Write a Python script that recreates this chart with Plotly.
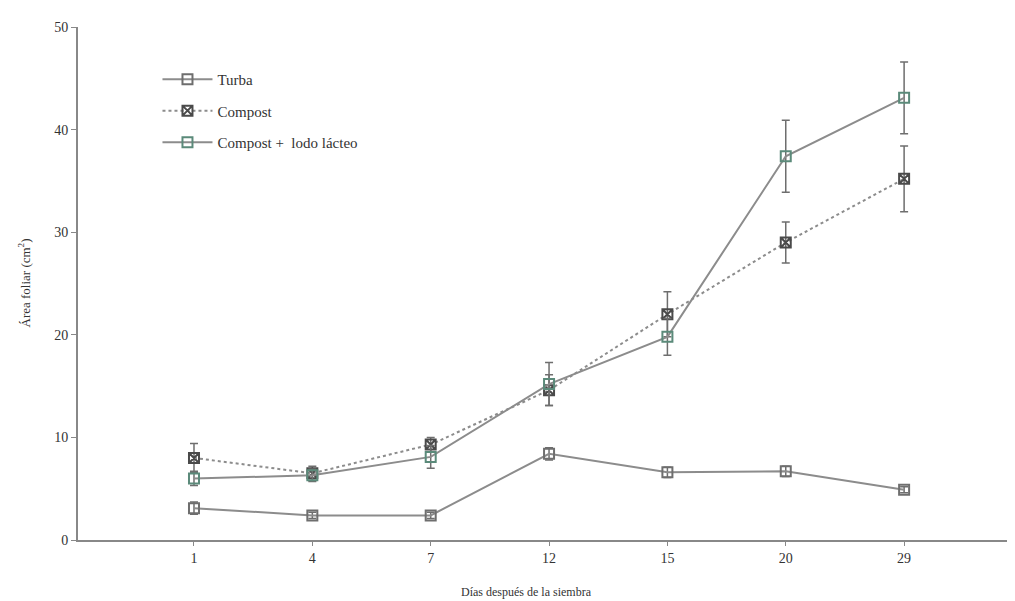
import plotly.graph_objects as go

dias = ["1", "4", "7", "12", "15", "20", "29"]

turba = [3.1, 2.4, 2.4, 8.4, 6.6, 6.7, 4.9]
turba_err = [0.6, 0.3, 0.3, 0.6, 0.5, 0.5, 0.3]

compost = [8.0, 6.5, 9.3, 14.6, 22.0, 29.0, 35.2]
compost_err = [1.4, 0.7, 0.7, 1.5, 2.2, 2.0, 3.2]

lodo = [6.0, 6.3, 8.1, 15.2, 19.8, 37.4, 43.1]
lodo_err = [0.7, 0.6, 1.1, 2.1, 1.8, 3.5, 3.5]

line_col = "#8c8c8c"
font_fam = "Liberation Serif, DejaVu Serif, serif"

fig = go.Figure()

fig.add_trace(go.Scatter(
    x=dias, y=turba, name="Turba", mode="lines+markers", legendgroup="a",
    line=dict(color=line_col, width=2),
    marker=dict(symbol="square-open", size=10, color="#6e6e6e", line=dict(width=2)),
    error_y=dict(type="data", array=turba_err, color="#6e6e6e", thickness=1.5, width=4),
))
fig.add_trace(go.Scatter(
    x=dias, y=compost, name="Compost", mode="lines+markers", legendgroup="b",
    line=dict(color=line_col, width=2, dash="dot"),
    marker=dict(symbol="square-x-open", size=10, color="#4a4a4a", line=dict(width=2)),
    error_y=dict(type="data", array=compost_err, color="#6e6e6e", thickness=1.5, width=4),
))
fig.add_trace(go.Scatter(
    x=dias, y=lodo, name="Compost +  lodo lácteo", mode="lines+markers", legendgroup="c",
    line=dict(color=line_col, width=2),
    marker=dict(symbol="square-open", size=10, color="#5b8a7a", line=dict(width=2)),
    error_y=dict(type="data", array=lodo_err, color="#6e6e6e", thickness=1.5, width=4),
))

fig.update_layout(
    width=1007, height=593,
    margin=dict(l=70, r=2, t=19, b=61, autoexpand=False),
    paper_bgcolor="white", plot_bgcolor="white",
    font=dict(family=font_fam, size=13, color="#333"),
    showlegend=True,
    legend=dict(x=0.085, y=0.93, xanchor="left", yanchor="top",
                bgcolor="rgba(0,0,0,0)", font=dict(size=15, color="#333"),
                itemwidth=50, tracegroupgap=9),
    xaxis=dict(
        type="category", range=[-0.98, 6.92], automargin=False,
        showline=True, linecolor="#888", linewidth=2,
        ticks="outside", ticklen=4, tickcolor="#888",
        showgrid=False, zeroline=False,
        tickfont=dict(size=14),
    ),
    yaxis=dict(
        range=[0, 50], dtick=10, automargin=False,
        showline=True, linecolor="#888", linewidth=2,
        ticks="outside", ticklen=5, tickcolor="#888",
        showgrid=False, zeroline=False,
        tickfont=dict(size=14),
    ),
    annotations=[
        dict(text="Días después de la siembra", xref="paper", yref="paper",
             x=0.48, y=0, yshift=-52, showarrow=False, yanchor="middle",
             font=dict(size=12, color="#333")),
        dict(text="Área foliar (cm<sup>2</sup>)", xref="paper", yref="paper",
             x=0, y=0.5, xshift=-54, showarrow=False, textangle=-90,
             xanchor="center", yanchor="middle",
             font=dict(size=13, color="#333")),
    ],
)

fig.write_html("out.html")
